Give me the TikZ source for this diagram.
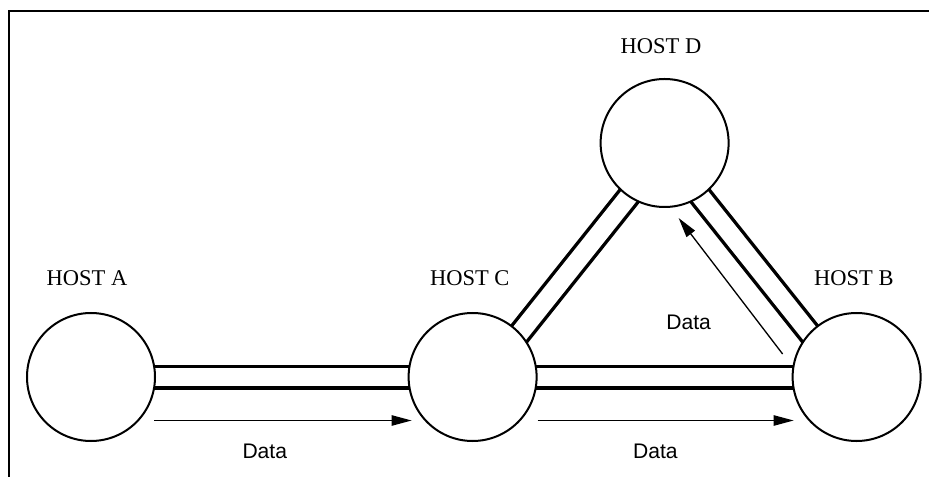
\documentclass[tikz,border=0pt]{standalone}
\usepackage{fontspec}
\setmainfont{Liberation Serif}
\setsansfont{Liberation Sans}
\usetikzlibrary{positioning, calc, arrows.meta, backgrounds}

\begin{document}
\begin{tikzpicture}[x=0.25mm, y=-0.25mm,
    host/.style={circle, draw, line width=0.5mm, fill=white, minimum size=32mm, inner sep=0pt},
    hostname/.style={font=\fontsize{16}{19}\selectfont, inner sep=0pt},
    link/.style={line width=0.85mm, double=white, double distance=4.55mm},
    flow/.style={line width=0.33mm, -{Triangle[length=5mm, width=2.6mm]}},
    flowlabel/.style={font=\sffamily\fontsize{15}{18}\selectfont},]
        \useasboundingbox (0,0) rectangle (929,477);
        \draw[line width=0.45mm] (9,477) -- (9,11) -- (929,11);
        % hosts
        \node[host] (A) at (91,377) {};
        \node[host, right of=A, node distance=95.4mm] (C) {};
        \node[host, right of=C, node distance=96mm] (B) {};
        \node[host] (D) at ($(C)!0.5!(B)+(0,-234)$) {};
        \node[hostname, above=6.4mm of A, xshift=-1mm] (nameA) {HOST A};
        \node[hostname, above=6.4mm of C, xshift=-0.7mm] (nameC) {HOST C};
        \node[hostname, above=6.4mm of B, xshift=-0.7mm] (nameB) {HOST B};
        \node[hostname, above=6mm of D, xshift=-0.9mm] (nameD) {HOST D};
        % links, kept behind the hosts
        \begin{scope}[on background layer]
          \draw[link] (A.center) -- (C.center);
          \draw[link] (C.center) -- (B.center);
          \draw[link, shorten <=-2mm, shorten >=-2mm] (C.43) -- (D.236);
          \draw[link, shorten <=-2mm, shorten >=-2mm] (B.137) -- (D.304);
        \end{scope}
        % data flow
        \draw[flow] ($(A.east)+(-2,43.5)$) -- node[flowlabel, pos=0.43, yshift=-7.6mm] (dataAC) {Data} ($(C.west)+(4,43.5)$);
        \draw[flow] ($(C.east)+(0,43.5)$) -- node[flowlabel, pos=0.46, yshift=-7.6mm] (dataCB) {Data} ($(B.west)+(2,43.5)$);
        \draw[flow] ($(B.west)+(-9,-23)$) -- node[flowlabel, pos=0.23, xshift=-17.5mm] (dataBD) {Data} ($(D.south)+(14,10)$);
      \end{tikzpicture}
\end{document}
